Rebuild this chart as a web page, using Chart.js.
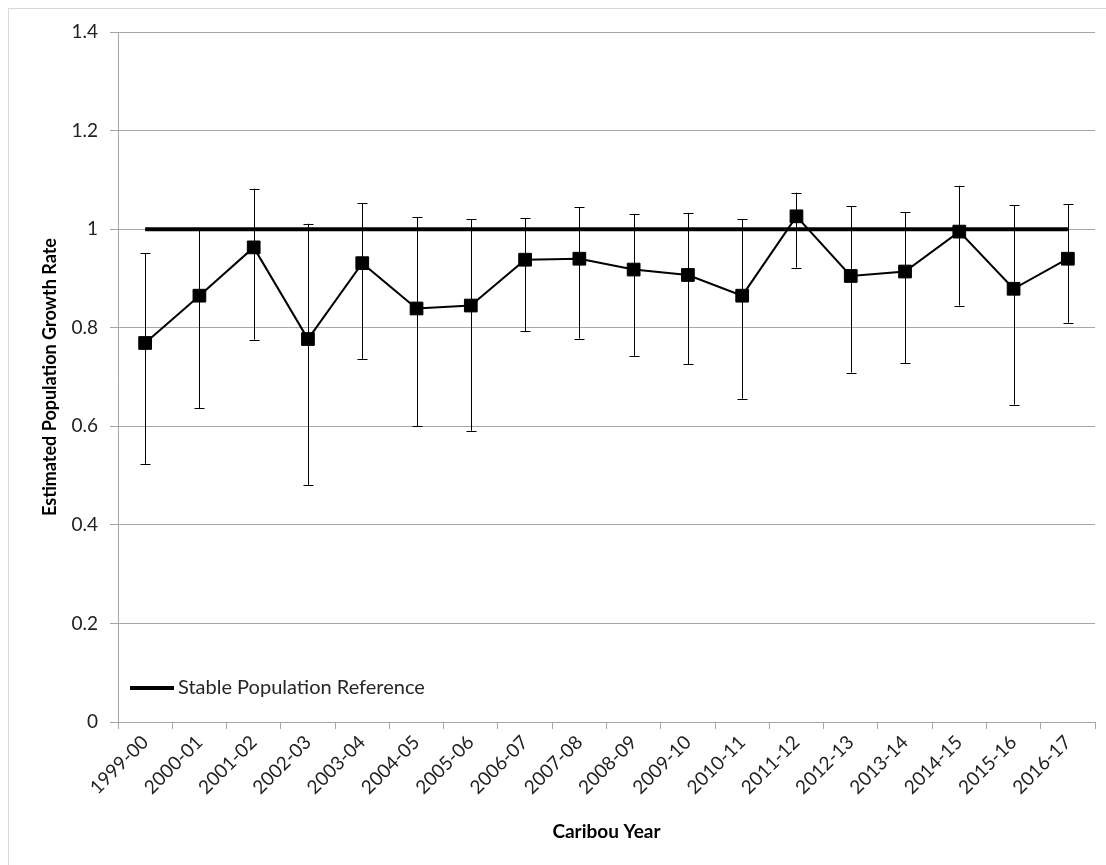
<!DOCTYPE html>
<html>
<head>
<meta charset="utf-8">
<script src="https://cdn.jsdelivr.net/npm/chart.js@4.4.1/dist/chart.umd.min.js"></script>
<style>
    html, body { margin: 0; padding: 0; background: #fff; }
    #wrap { position: relative; width: 1106px; height: 865px; overflow: hidden; }
    #frame { position: absolute; left: 8px; top: 8px; width: 1120px; height: 880px; border-left: 1px solid #d9d9d9; border-top: 1px solid #d9d9d9; }
    canvas { position: absolute; left: 0; top: 0; }
</style>
</head>
<body>
<div id="wrap">
    <div id="frame"></div>
    <canvas id="chart" width="1106" height="865"></canvas>
</div>
<script>
const years = ["1999-00", "2000-01", "2001-02", "2002-03", "2003-04", "2004-05", "2005-06", "2006-07", "2007-08",
    "2008-09", "2009-10", "2010-11", "2011-12", "2012-13", "2013-14", "2014-15", "2015-16", "2016-17"];
const growthRate = [0.769, 0.865, 0.963, 0.777, 0.931, 0.839, 0.845, 0.938, 0.940,
    0.918, 0.907, 0.865, 1.026, 0.905, 0.914, 0.995, 0.879, 0.940];
const upperCI = [0.951, 1.000, 1.082, 1.011, 1.053, 1.024, 1.020, 1.022, 1.044,
    1.030, 1.033, 1.020, 1.074, 1.046, 1.035, 1.088, 1.048, 1.050];
const lowerCI = [0.524, 0.637, 0.776, 0.480, 0.737, 0.600, 0.591, 0.793, 0.778,
    0.743, 0.726, 0.656, 0.922, 0.709, 0.728, 0.845, 0.644, 0.810];
const stableLevel = years.map(() => 1);
const yMin = 0, yMax = 1.4, yStep = 0.2;

const fontName = "Lato";
const gridColor = "#a6a6a6";

// barres d'erreur, dessinées sous les séries
const errorBars = {
    id: "errorBars",
    beforeDatasetsDraw(chart) {
        const ctx = chart.ctx;
        const x = chart.scales.x, y = chart.scales.y;
        ctx.save();
        ctx.strokeStyle = "#000";
        ctx.lineWidth = 1;
        years.forEach((yr, i) => {
            const px = Math.round(x.getPixelForValue(i)) + 0.5;
            const top = y.getPixelForValue(upperCI[i]);
            const bot = y.getPixelForValue(lowerCI[i]);
            ctx.beginPath();
            ctx.moveTo(px, top);
            ctx.lineTo(px, bot);
            ctx.moveTo(px - 5, Math.round(top) + 0.5);
            ctx.lineTo(px + 5, Math.round(top) + 0.5);
            ctx.moveTo(px - 5, Math.round(bot) + 0.5);
            ctx.lineTo(px + 5, Math.round(bot) + 0.5);
            ctx.stroke();
        });
        ctx.restore();
    }
};

// légende dans la zone du graphique, en bas à gauche
const insideLegend = {
    id: "insideLegend",
    afterDraw(chart) {
        const ctx = chart.ctx;
        const area = chart.chartArea;
        const ly = area.bottom - 34;
        ctx.save();
        ctx.strokeStyle = "#000";
        ctx.lineWidth = 4;
        ctx.beginPath();
        ctx.moveTo(area.left + 12, ly);
        ctx.lineTo(area.left + 56, ly);
        ctx.stroke();
        ctx.fillStyle = "#262626";
        ctx.font = "20px " + fontName;
        ctx.textBaseline = "middle";
        ctx.fillText("Stable Population Reference", area.left + 60, ly);
        ctx.restore();
    }
};

const ctx = document.getElementById("chart").getContext("2d");
const chart = new Chart(ctx, {
    type: "line",
    data: {
        labels: years,
        datasets: [{
            label: "Estimated Population Growth Rate",
            data: growthRate,
            borderColor: "#000",
            borderWidth: 2,
            pointStyle: "rect",
            pointRadius: 9,
            pointBackgroundColor: "#000",
            pointBorderColor: "#000",
            pointBorderWidth: 1,
            tension: 0
        }, {
            label: "Stable Population Reference",
            data: stableLevel,
            borderColor: "#000",
            borderWidth: 4,
            pointRadius: 0,
            tension: 0
        }]
    },
    options: {
        responsive: false,
        animation: false,
        layout: { padding: { left: 0, top: 32, right: 11, bottom: 0 } },
        plugins: {
            legend: { display: false },
            tooltip: { enabled: false }
        },
        scales: {
            x: {
                type: "category",
                offset: true,
                grid: { offset: true, drawOnChartArea: false, drawTicks: true, tickLength: 7, color: gridColor },
                border: { color: gridColor },
                ticks: {
                    maxRotation: 45, minRotation: 45, autoSkip: false, padding: 2,
                    color: "#222", font: { family: fontName, size: 19 }
                },
                title: {
                    display: true, text: "Caribou Year", color: "#000",
                    font: { family: fontName, size: 19, weight: "bold" },
                    padding: { top: 4, bottom: 22 }
                },
                afterFit: scale => { scale.height = 865 - 722; }
            },
            y: {
                min: yMin, max: yMax,
                grid: { color: gridColor, tickLength: 8 },
                border: { color: gridColor },
                ticks: {
                    stepSize: yStep, padding: 12, color: "#222",
                    font: { family: fontName, size: 19 },
                    callback: v => String(Math.round(v * 10) / 10)
                },
                title: {
                    display: true, text: "Estimated Population Growth Rate", color: "#000",
                    font: { family: fontName, size: 18, weight: "bold" },
                    padding: { top: 39, bottom: 0 }
                },
                afterFit: scale => { scale.width = 118; }
            }
        }
    },
    plugins: [errorBars, insideLegend]
});
</script>
</body>
</html>
